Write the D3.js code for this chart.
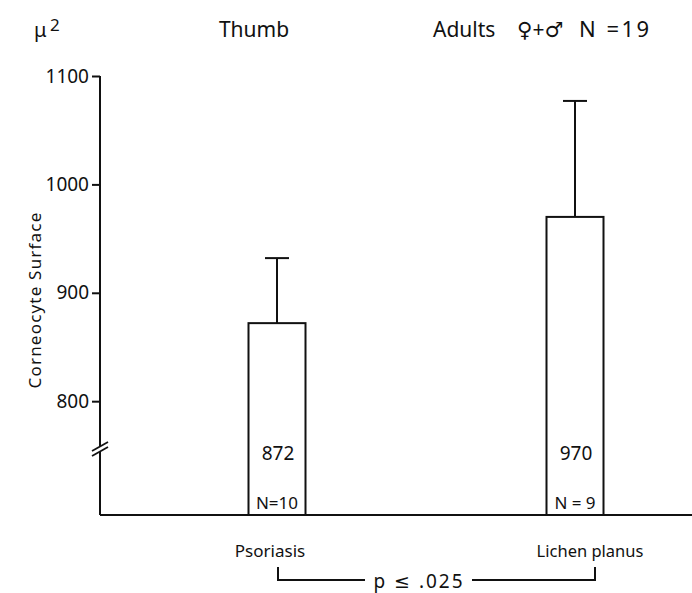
<!DOCTYPE html>
<html><head><meta charset="utf-8">
<script src="https://cdn.jsdelivr.net/npm/d3@7"></script>
<style>
html,body{margin:0;padding:0;background:#fff;}
text{font-family:"Noto Sans","DejaVu Sans",sans-serif;fill:#111;}
</style></head>
<body><svg id="c" width="692" height="593"></svg>
<script>
const categories = ["Psoriasis", "Lichen planus"];
const means = [872, 970];
const errTops = [932, 1077];
const nLabels = ["N=10", "N = 9"];
const yTicks = [800, 900, 1000, 1100];

const svg = d3.select("#c");
const y = d3.scaleLinear().domain([695, 1100]).range([515, 76]);
const x = d3.scaleLinear().domain([0, 1]).range([277, 575]);
const barW = 57;
const axisX = 100, baseY = y(695);

// titles
svg.append("text").attr("x", 34).attr("y", 37).attr("font-size", 20).text("μ");
svg.append("text").attr("x", 50).attr("y", 31).attr("font-size", 17).text("2");
svg.append("text").attr("x", 254).attr("y", 37).attr("font-size", 21).attr("text-anchor", "middle").text("Thumb");
svg.append("text").attr("x", 433).attr("y", 37).attr("font-size", 21).text("Adults");
svg.append("text").attr("x", 517).attr("y", 37).attr("font-size", 21).text("♀+♂");
svg.append("text").attr("x", 579).attr("y", 37).attr("font-size", 22).attr("letter-spacing", 2.5).text("N =19");

// y axis
const yAxis = d3.axisLeft(y).tickValues(yTicks).tickSize(8).tickPadding(3).tickFormat(d3.format("d"));
const ga = svg.append("g").attr("transform", `translate(${axisX},0)`).call(yAxis);
ga.select(".domain").remove();
ga.selectAll(".tick line").attr("stroke", "#111").attr("stroke-width", 2);
ga.selectAll(".tick text").attr("font-size", 19).attr("fill", "#111")
  .style("font-family", "'Noto Sans', sans-serif");
svg.append("line").attr("x1", axisX).attr("x2", axisX).attr("y1", y(1100)).attr("y2", baseY)
  .attr("stroke", "#111").attr("stroke-width", 2);
svg.append("line").attr("x1", axisX).attr("x2", 692).attr("y1", baseY).attr("y2", baseY)
  .attr("stroke", "#111").attr("stroke-width", 2);
// break marks
svg.append("rect").attr("x", 97).attr("y", 446).attr("width", 6).attr("height", 5).attr("fill", "#fff");
[0, 5].forEach(o => {
  svg.append("line").attr("x1", 92).attr("y1", 451 + o).attr("x2", 108).attr("y2", 442 + o)
    .attr("stroke", "#111").attr("stroke-width", 1.8);
});

svg.append("text").attr("transform", "translate(41,300) rotate(-90)").attr("text-anchor", "middle")
  .attr("font-size", 17).attr("letter-spacing", 1.2).text("Corneocyte Surface");

// bars
categories.forEach((c, i) => {
  const cx = x(i);
  svg.append("line").attr("x1", cx).attr("x2", cx).attr("y1", y(means[i])).attr("y2", y(errTops[i]))
    .attr("stroke", "#111").attr("stroke-width", 2);
  svg.append("line").attr("x1", cx - 12).attr("x2", cx + 12).attr("y1", y(errTops[i])).attr("y2", y(errTops[i]))
    .attr("stroke", "#111").attr("stroke-width", 2);
  svg.append("rect").attr("x", cx - barW / 2).attr("y", y(means[i])).attr("width", barW)
    .attr("height", baseY - y(means[i])).attr("fill", "none").attr("stroke", "#111").attr("stroke-width", 2);
  svg.append("text").attr("x", cx + 1).attr("y", 460).attr("text-anchor", "middle").attr("font-size", 19).text(means[i]);
  svg.append("text").attr("x", cx).attr("y", 509).attr("text-anchor", "middle").attr("font-size", 17).text(nLabels[i]);
});
svg.append("text").attr("x", 270).attr("y", 557).attr("text-anchor", "middle").attr("font-size", 17).text(categories[0]);
svg.append("text").attr("x", 590).attr("y", 557).attr("text-anchor", "middle").attr("font-size", 16.5).text(categories[1]);

// significance bracket
svg.append("path").attr("d", "M278,567 V580 H365 M472,580 H595 V567")
  .attr("fill", "none").attr("stroke", "#111").attr("stroke-width", 2);
svg.append("text").attr("x", 419).attr("y", 588).attr("text-anchor", "middle").attr("font-size", 19)
  .attr("letter-spacing", 2).text("p ≤ .025");
</script></body></html>
